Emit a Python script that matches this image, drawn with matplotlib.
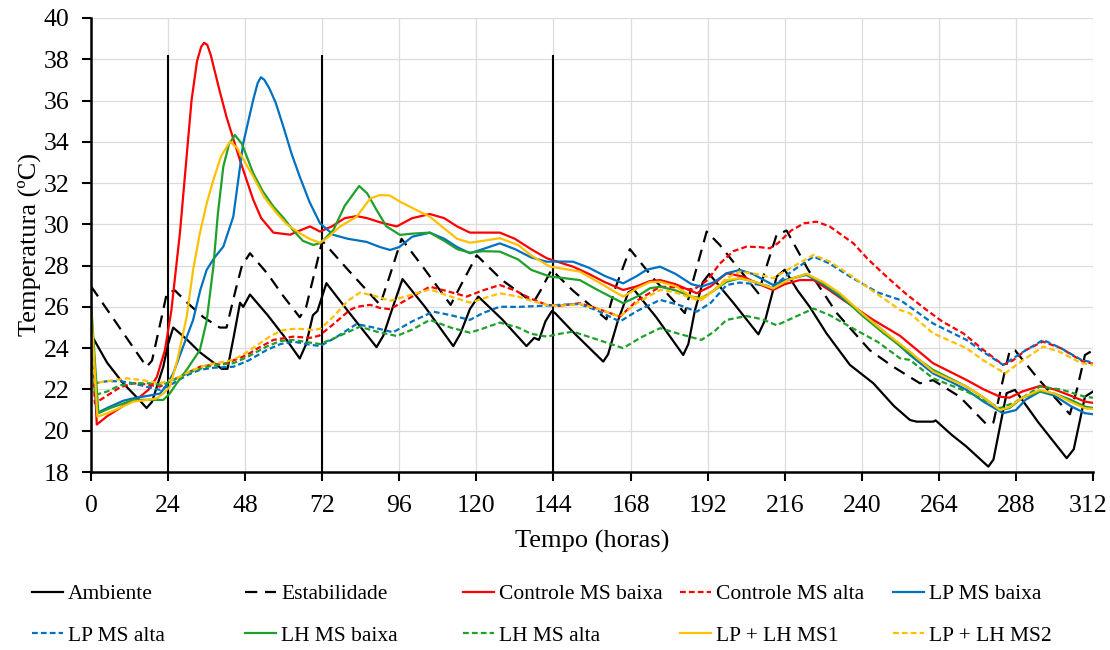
import matplotlib
matplotlib.use("Agg")
import matplotlib.pyplot as plt
import matplotlib.transforms as mtransforms

plt.rcParams['font.family'] = ['Liberation Serif', 'DejaVu Serif']

# Ambiente (black solid)
amb_h = [0, 1, 5, 10, 15, 17.3, 19, 22.5, 24, 25.6, 30, 33.9, 40.7, 42.5, 44.5, 46.4, 47.4, 49.5,
         55, 60, 65, 67, 69.1, 70.5, 73.3, 80, 88.9, 91, 94, 97, 104, 112.8, 115, 118, 120.6,
         128, 135.6, 138, 139.5, 141.5, 143.5, 144.5, 150, 159.5, 161, 164, 167.3, 169, 176,
         184.4, 186, 188, 190.5, 192.5, 200, 207.8, 210, 213.5, 216, 220, 223.8, 229, 236.3,
         243.6, 250, 255, 257.1, 262.3, 263, 268, 272.6, 279.4, 281, 285.1, 287.7, 295, 303.8,
         306, 309.5, 312]
amb_t = [24.6, 24.4, 23.3, 22.3, 21.5, 21.1, 21.4, 23.1, 24.2, 25.0, 24.4, 23.8, 23.0, 23.0, 24.6,
         26.2, 26.0, 26.6, 25.6, 24.6, 23.5, 24.2, 25.6, 25.8, 27.15, 25.8, 24.05, 24.6, 26.0,
         27.35, 26.0, 24.1, 24.7, 25.9, 26.5, 25.4, 24.1, 24.5, 24.4, 25.3, 25.8, 25.7, 24.8,
         23.35, 23.7, 25.3, 26.7, 26.85, 25.5, 23.67, 24.2, 25.8, 27.2, 27.6, 26.2, 24.67, 25.4,
         27.47, 27.8, 26.8, 26.0, 24.72, 23.19, 22.3, 21.2, 20.52, 20.44, 20.44, 20.5, 19.8, 19.23,
         18.26, 18.6, 21.82, 21.98, 20.4, 18.67, 19.1, 21.65, 21.9]

# Estabilidade (black dashed)
est_h = [0, 17.3, 19, 22, 23.6, 26.1, 30, 35, 40.1, 42.2, 45, 47, 49.5, 55, 60, 65, 67, 70.3, 72,
         80, 90, 93, 96.7, 104, 112, 115, 120.1, 128, 137.7, 140, 143.4, 150, 160.5, 163, 167.8,
         175, 184.9, 187, 191.7, 195.8, 207.8, 210, 213.5, 216.6, 223.3, 232.2, 242.5, 249.8,
         258.1, 262.2, 270.5, 278.9, 281, 284, 286.1, 287.7, 295, 304.8, 307, 309.5, 312]
est_t = [27.0, 23.1, 23.4, 25.5, 26.66, 26.8, 26.2, 25.5, 25.0, 25.0, 26.8, 28.0, 28.6, 27.6, 26.5,
         25.5, 26.0, 28.1, 29.2, 27.8, 26.1, 27.5, 29.3, 27.8, 26.1, 27.0, 28.5, 27.3, 26.2, 26.8,
         27.8, 26.8, 25.4, 26.8, 28.8, 27.4, 25.7, 27.0, 29.65, 29.0, 26.66, 27.8, 29.5, 29.7, 27.8,
         25.7, 23.9, 23.1, 22.3, 22.45, 21.65, 20.3, 20.4, 22.5, 23.9, 23.9, 22.5, 20.8, 22.0,
         23.67, 23.9]

# Controle MS baixa (red solid)
cb_h = [0, 1.8, 5, 10, 15.3, 18, 20.5, 23, 25, 27.7, 31.3, 33, 34.3, 35.2, 36.2, 37.3, 40, 42.2,
        46.4, 50.5, 53, 56.8, 62, 65, 68.2, 71.3, 75, 79, 82.7, 86, 90, 95.2, 100, 105.5, 110, 114,
        118, 122, 127.3, 132, 137, 141.9, 146, 150.1, 155, 160, 165.7, 170, 174, 177.2, 182, 188.6,
        193, 197.9, 203.1, 208, 212.4, 216, 220.7, 225, 230, 234.2, 243.6, 251.9, 262.2, 272.6,
        278, 283, 286, 290, 295.5, 300, 305, 309.5, 312]
cb_t = [26.0, 20.3, 20.7, 21.2, 21.65, 22.0, 22.6, 23.9, 25.8, 29.6, 36.0, 37.9, 38.6, 38.8, 38.7,
        38.2, 36.5, 35.2, 33.1, 31.2, 30.3, 29.6, 29.5, 29.7, 29.9, 29.65, 29.9, 30.3, 30.4, 30.3,
        30.1, 29.9, 30.3, 30.5, 30.3, 29.9, 29.6, 29.6, 29.6, 29.3, 28.8, 28.36, 28.15, 27.95,
        27.6, 27.2, 26.82, 27.0, 27.25, 27.3, 27.1, 26.66, 27.0, 27.63, 27.47, 27.1, 26.82, 27.1,
        27.3, 27.3, 26.8, 26.34, 25.37, 24.6, 23.27, 22.46, 22.0, 21.65, 21.6, 21.9, 22.17, 22.0,
        21.7, 21.41, 21.35]

# Controle MS alta (red dashed)
ca_h = [0, 1.2, 5, 9, 13.2, 17, 21.5, 25.6, 30, 33.9, 38, 42.2, 48.5, 52, 56.8, 63, 68.2, 71, 75,
        80.6, 82.7, 86.9, 90, 93.1, 100, 105.5, 110, 117, 122, 127.3, 132, 137, 141.9, 146, 152.2,
        158, 164.7, 170, 177.2, 182, 187.5, 192, 195.8, 200, 204.1, 208, 211.4, 214, 218, 222,
        225.9, 230, 237.4, 242, 247.7, 254, 260.2, 265, 271.6, 278, 284, 287, 291, 296.4, 302,
        308.9, 312]
ca_t = [25.8, 21.33, 21.7, 22.1, 22.3, 22.25, 22.14, 22.46, 22.8, 23.1, 23.2, 23.27, 23.67, 24.0,
        24.4, 24.56, 24.5, 24.6, 25.1, 25.85, 26.0, 26.1, 25.95, 25.89, 26.5, 26.98, 26.8, 26.5,
        26.8, 27.06, 26.8, 26.4, 26.1, 26.05, 26.18, 25.9, 25.53, 26.3, 26.98, 26.95, 26.82, 27.3,
        28.1, 28.7, 28.92, 28.9, 28.84, 29.1, 29.7, 30.05, 30.13, 29.9, 29.08, 28.3, 27.47, 26.6,
        25.85, 25.3, 24.72, 23.9, 23.19, 23.4, 23.9, 24.32, 24.0, 23.35, 23.25]

# LP MS baixa (blue solid)
lpb_h = [0, 1.8, 5, 10, 13.2, 18, 21.5, 23.5, 25.6, 28.5, 31.8, 34, 36, 38.5, 41.2, 44.3, 47.4,
         50.5, 51.9, 52.9, 54, 55.5, 57.5, 59.9, 62.5, 65, 68, 71.3, 75.5, 80, 85.8, 90, 93.1, 96,
         100, 105.5, 110, 114, 118, 122, 127.3, 132, 137, 141.9, 146, 150.1, 155, 160, 165.7, 170,
         173, 177.2, 182, 187, 190.1, 194, 197.9, 202, 206, 212.4, 216, 222.8, 228, 233.2, 240,
         247, 255, 262.2, 268, 272.6, 278, 284, 288, 291, 295.5, 300, 305, 309.5, 312]
lpb_t = [26.0, 20.85, 21.1, 21.45, 21.57, 21.7, 21.8, 22.2, 22.78, 24.0, 25.37, 26.8, 27.79, 28.4,
         28.92, 30.37, 33.93, 36.03, 36.85, 37.13, 37.0, 36.6, 35.9, 34.73, 33.4, 32.31, 31.1,
         30.05, 29.49, 29.3, 29.15, 28.9, 28.76, 28.9, 29.4, 29.6, 29.3, 28.9, 28.6, 28.8, 29.08,
         28.8, 28.4, 28.19, 28.2, 28.19, 27.9, 27.5, 27.14, 27.5, 27.8, 27.95, 27.6, 27.1, 26.98,
         27.2, 27.63, 27.79, 27.6, 27.06, 27.3, 27.55, 27.1, 26.5, 25.7, 24.8, 23.67, 22.78, 22.35,
         21.98, 21.4, 20.85, 21.0, 21.5, 21.9, 21.7, 21.2, 20.85, 20.8]

# LP MS alta (blue dashed)
lpa_h = [0, 1.2, 5, 9, 13.2, 18, 21.5, 25.6, 30, 33.9, 38, 44.3, 49, 54.7, 59, 63, 67, 71.3, 76,
         82.7, 88, 94.1, 100, 106.6, 112, 118, 122, 127.3, 133, 139.8, 146, 152.2, 158, 164.7, 170,
         177.2, 183, 188.6, 193, 197.9, 202, 207, 212.4, 218, 225, 230, 236.3, 245, 251.9, 255,
         262.2, 272.6, 278, 284, 290, 296.5, 302, 308.4, 312]
lpa_t = [25.8, 22.3, 22.4, 22.4, 22.3, 22.1, 21.98, 22.3, 22.7, 22.95, 23.05, 23.1, 23.4, 23.91,
         24.2, 24.32, 24.2, 24.1, 24.5, 25.17, 25.0, 24.77, 25.3, 25.77, 25.6, 25.37, 25.7, 26.01,
         26.0, 26.05, 26.1, 26.14, 25.8, 25.29, 25.8, 26.34, 26.1, 25.77, 26.2, 27.06, 27.18, 27.1,
         26.98, 27.7, 28.44, 28.1, 27.47, 26.7, 26.34, 26.0, 25.2, 24.4, 23.8, 23.19, 23.8, 24.4,
         24.0, 23.43, 23.3]

# LH MS baixa (green solid)
lhb_h = [0, 2.3, 6, 13.2, 18, 22.5, 24.5, 26.7, 30, 33.9, 36, 38.1, 39.5, 41.2, 43, 44.8, 47, 50.5,
         53.5, 56.8, 60, 63, 66, 69.2, 71.5, 75.5, 79, 83.5, 86, 88.9, 92, 96.2, 100, 105.5, 110,
         114, 118, 122, 127.3, 133, 137, 142.9, 147, 152.2, 158, 165.7, 170, 174, 177.2, 182, 187,
         190.1, 194, 197.9, 202, 207, 212.4, 217, 222.8, 228, 233.2, 240, 247, 255, 262.2, 268,
         272.6, 278, 283, 286, 290, 295.5, 300, 305, 309.5, 312]
lhb_t = [26.2, 20.85, 21.1, 21.49, 21.5, 21.49, 21.8, 22.3, 23.0, 23.91, 25.3, 27.95, 30.5, 32.8,
         33.9, 34.33, 33.9, 32.48, 31.6, 30.86, 30.3, 29.7, 29.2, 29.0, 29.1, 29.73, 30.9, 31.86,
         31.5, 30.7, 29.9, 29.49, 29.55, 29.6, 29.2, 28.8, 28.63, 28.7, 28.68, 28.3, 27.8, 27.47,
         27.4, 27.3, 26.8, 26.18, 26.5, 26.9, 26.98, 26.8, 26.5, 26.42, 26.8, 27.22, 27.39, 27.2,
         26.9, 27.3, 27.6, 27.15, 26.58, 25.6, 24.7, 23.75, 22.95, 22.5, 22.14, 21.6, 21.0, 21.1,
         21.6, 21.9, 21.8, 21.5, 21.17, 21.1]

# LH MS alta (green dashed)
lha_h = [0, 1.2, 5, 9, 13.2, 18, 22.5, 27.7, 32, 36, 40, 44.3, 49, 54.7, 59, 63, 67, 71.3, 76,
         83.7, 89, 95.2, 100, 105.5, 112, 118, 122, 127.3, 133, 137, 141.9, 146, 150.1, 158, 165.7,
         171, 177.2, 183, 190.1, 194, 197.9, 204.1, 209, 213.5, 219, 225, 230, 236.3, 245, 251.9,
         255, 262.2, 272.6, 278, 283, 288, 295.5, 302, 309.5, 312]
lha_t = [26.0, 21.73, 21.9, 22.2, 22.3, 22.3, 22.22, 22.62, 22.9, 23.1, 23.2, 23.27, 23.6, 24.08,
         24.35, 24.4, 24.3, 24.2, 24.5, 25.04, 24.8, 24.59, 24.9, 25.37, 25.0, 24.75, 24.95, 25.24,
         25.0, 24.7, 24.56, 24.7, 24.8, 24.4, 24.0, 24.5, 24.97, 24.7, 24.4, 24.8, 25.37, 25.56,
         25.4, 25.11, 25.5, 25.92, 25.6, 25.04, 24.3, 23.51, 23.43, 22.54, 21.9, 21.5, 21.09, 21.4,
         22.14, 22.0, 21.65, 21.6]

# LP + LH MS1 (yellow solid)
m1_h = [0, 2, 6, 13.2, 18, 20.5, 22.5, 24.6, 27, 29.8, 31.8, 33.9, 36, 38.1, 40.5, 43.3, 45.5, 48,
        50.5, 54, 57.8, 61, 65, 68, 71.3, 74, 77.5, 82.7, 87, 90, 93, 96.2, 100, 105.5, 110, 114,
        118, 122, 127.3, 133, 137, 142.9, 147, 152.2, 158, 165.7, 170, 174, 177.2, 182, 187, 190.1,
        194, 197.9, 202, 207, 212.4, 217, 222.8, 228, 233.2, 240, 247, 255, 262.2, 268, 272.6, 278,
        283, 286, 290, 295.5, 300, 305, 309.5, 312]
m1_t = [26.0, 20.68, 20.9, 21.41, 21.5, 21.57, 21.8, 22.14, 23.5, 25.53, 27.8, 29.57, 31.0, 32.15,
        33.3, 34.01, 33.7, 33.0, 32.31, 31.3, 30.54, 30.0, 29.57, 29.3, 29.11, 29.4, 29.89, 30.37,
        31.26, 31.42, 31.4, 31.1, 30.8, 30.37, 29.8, 29.3, 29.11, 29.2, 29.33, 29.0, 28.5, 27.95,
        27.85, 27.71, 27.2, 26.5, 26.9, 27.2, 27.22, 27.0, 26.5, 26.34, 26.8, 27.3, 27.39, 27.2,
        26.9, 27.3, 27.6, 27.2, 26.66, 25.7, 24.8, 23.83, 22.87, 22.45, 22.14, 21.6, 21.0, 21.15,
        21.6, 21.98, 21.8, 21.4, 21.09, 21.05]

# LP + LH MS2 (yellow dashed)
m2_h = [0, 1.2, 5, 11.1, 16, 21.5, 26.7, 31, 36, 40, 44.3, 48.5, 52.6, 56, 59.9, 64, 69.2, 71.5,
        75.5, 80, 83.7, 88, 93.1, 99, 105.5, 111, 118, 122, 127.3, 133, 137, 141.9, 146, 152.2,
        158, 164.7, 170, 177.2, 182, 188.6, 193, 197.9, 202, 207, 212.4, 218, 225, 230, 236.3, 245,
        251.9, 255, 262.2, 272.6, 278, 284.6, 290, 296.5, 302, 308.4, 312]
m2_t = [26.0, 22.3, 22.4, 22.54, 22.45, 22.3, 22.54, 22.9, 23.19, 23.3, 23.43, 23.8, 24.24, 24.6,
        24.88, 24.95, 24.88, 24.95, 25.53, 26.3, 26.69, 26.55, 26.3, 26.55, 26.85, 26.55, 26.21,
        26.4, 26.66, 26.5, 26.3, 26.1, 26.05, 26.14, 25.9, 25.53, 26.2, 26.82, 26.7, 26.34, 26.7,
        27.39, 27.71, 27.6, 27.39, 27.9, 28.52, 28.2, 27.55, 26.6, 25.85, 25.69, 24.72, 24.0, 23.4,
        22.78, 23.4, 24.08, 23.8, 23.27, 23.2]

event_hours = [24, 72, 144]
x_ticks = list(range(0, 313, 24))
y_ticks = list(range(18, 41, 2))

RED = '#FF0000'
BLUE = '#0070C0'
GREEN = '#1EA02A'
YELLOW = '#FFC000'
lw = 1.6
long_dash = (0, (5.5, 3.5))
short_dash = (0, (2.6, 1.4))

fig = plt.figure(figsize=(11.1, 6.5), dpi=100)
ax = fig.add_axes([91 / 1110, 1 - 472 / 650, (1093 - 91) / 1110, (472 - 18) / 650])

ax.grid(True, color='#dcdcdc', lw=0.9, zorder=0)
ax.set_axisbelow(True)

ax.vlines(event_hours, 18, 38.2, color='black', lw=1.5, zorder=2)

h_amb, = ax.plot(amb_h, amb_t, color='black', lw=lw, label='Ambiente')
h_est, = ax.plot(est_h, est_t, color='black', lw=lw, ls=long_dash, label='Estabilidade')
h_cb, = ax.plot(cb_h, cb_t, color=RED, lw=lw, label='Controle MS baixa')
h_ca, = ax.plot(ca_h, ca_t, color=RED, lw=lw, ls=short_dash, label='Controle MS alta')
h_lpb, = ax.plot(lpb_h, lpb_t, color=BLUE, lw=lw, label='LP MS baixa')
h_lpa, = ax.plot(lpa_h, lpa_t, color=BLUE, lw=lw, ls=short_dash, label='LP MS alta')
h_lhb, = ax.plot(lhb_h, lhb_t, color=GREEN, lw=lw, label='LH MS baixa')
h_lha, = ax.plot(lha_h, lha_t, color=GREEN, lw=lw, ls=short_dash, label='LH MS alta')
h_m1, = ax.plot(m1_h, m1_t, color=YELLOW, lw=lw, label='LP + LH MS1')
h_m2, = ax.plot(m2_h, m2_t, color=YELLOW, lw=lw, ls=short_dash, label='LP + LH MS2')

ax.set_xlim(0, 312)
ax.set_ylim(18, 40)
ax.set_xticks(x_ticks)
ax.set_yticks(y_ticks)
ax.tick_params(axis='both', labelsize=18.5, direction='out', length=6.5, width=1.5, color='black')
ax.tick_params(axis='x', pad=10)
ax.tick_params(axis='y', pad=9)
for s in ['top', 'right']:
    ax.spines[s].set_visible(False)
for s in ['left', 'bottom']:
    ax.spines[s].set_linewidth(1.8)

# keep the last x label ("312") inside the image
last = ax.get_xticklabels()[-1]
last.set_transform(last.get_transform() +
                   mtransforms.ScaledTranslation(-5 / 100, 0, fig.dpi_scale_trans))

ax.set_xlabel('Tempo (horas)', fontsize=19, labelpad=9)
ax.set_ylabel('Temperatura (ºC)', fontsize=19, labelpad=2)

# legend: five columns of two entries, evenly spaced like the original
columns = [(h_amb, h_lpa), (h_est, h_lhb), (h_cb, h_lha), (h_ca, h_m1), (h_lpb, h_m2)]
col_x = [32, 245, 463, 680, 893]
for cx, pair in zip(col_x, columns):
    fig.legend(handles=list(pair), loc='upper left', bbox_to_anchor=(cx / 1110, 1 - 584 / 650),
               frameon=False, fontsize=15.5, handlelength=1.45, handletextpad=0.22,
               labelspacing=1.0, borderaxespad=0, borderpad=0)

fig.savefig('out.png', dpi=100)
